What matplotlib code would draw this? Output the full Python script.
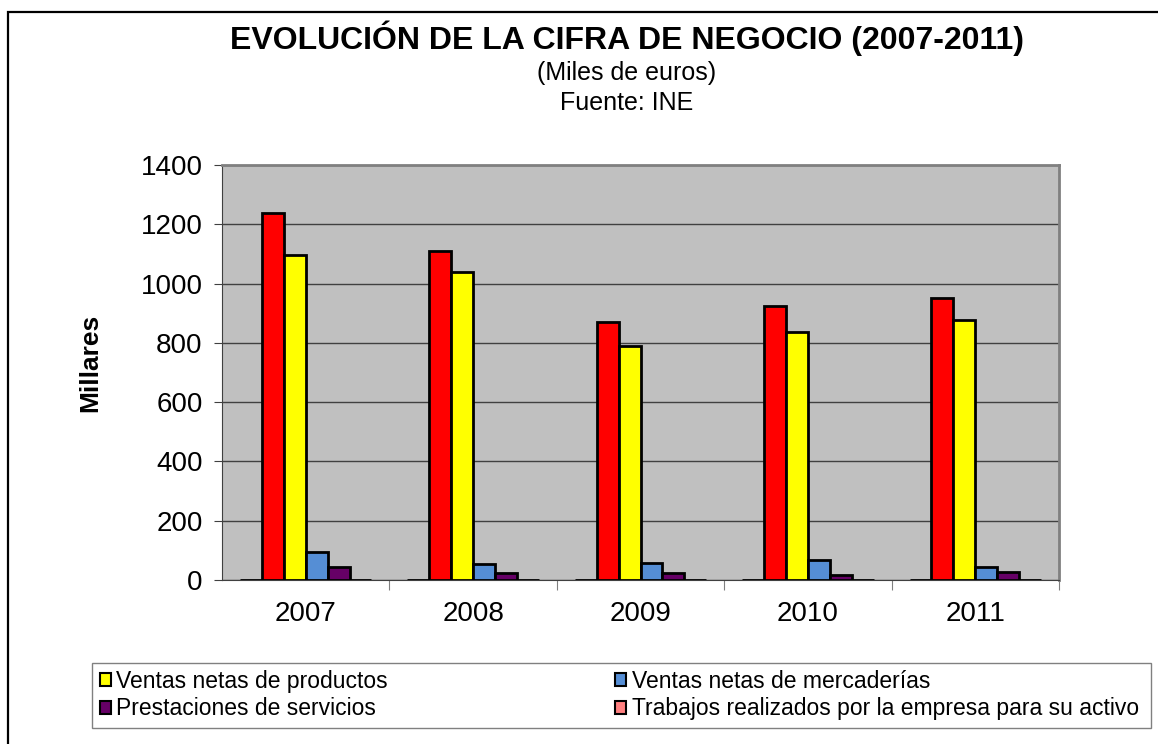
import numpy as np
import matplotlib
matplotlib.use("Agg")
import matplotlib.pyplot as plt
from matplotlib.patches import Rectangle, Patch

plt.rcParams['font.family'] = ['Liberation Sans', 'DejaVu Sans']

years = ["2007", "2008", "2009", "2010", "2011"]

# series in drawing order (left to right inside each year)
serie_vacia = [0, 0, 0, 0, 0]
total = [1237, 1111, 869, 925, 953]
ventas_productos = [1096, 1038, 790, 838, 876]
ventas_mercaderias = [95, 53, 56, 67, 45]
prestaciones = [45, 22, 22, 17, 28]
trabajos = [0, 0, 0, 0, 0]

series = [serie_vacia, total, ventas_productos, ventas_mercaderias, prestaciones, trabajos]
colores = ["#FF8080", "#FF0000", "#FFFF00", "#558ED5", "#660066", "#FF8080"]

# legend is filled column by column, so order it to read row by row
legend_names = ["Ventas netas de productos", "Prestaciones de servicios",
                "Ventas netas de mercaderías", "Trabajos realizados por la empresa para su activo"]
legend_colors = ["#FFFF00", "#660066", "#558ED5", "#FF8080"]

W, H = 1158, 744
fig = plt.figure(figsize=(W / 100, H / 100), dpi=100)

# outer frame
fig.patches.append(Rectangle((8 / W, -0.1), 1.2, 1.1 - 12 / H, transform=fig.transFigure,
                             fill=False, edgecolor="black", linewidth=1.6))

ax = fig.add_axes([222 / W, 1 - 580 / H, 837 / W, 415 / H])
ax.set_facecolor("#C0C0C0")

x = np.arange(len(years))
w = 0.131
for i, (vals, c) in enumerate(zip(series, colores)):
    ax.bar(x + (i - 2.5) * w, vals, w, color=c, edgecolor="black", linewidth=2, zorder=3)

ax.set_xlim(-0.5, 4.5)
ax.set_ylim(0, 1400)
ax.set_yticks(np.arange(0, 1401, 200))
ax.yaxis.grid(True, color="#404040", linewidth=1, zorder=1)
ax.tick_params(axis="y", labelsize=20, length=6, color="#404040", pad=8)

# category boundaries get the tick marks, years sit in the middle
ax.set_xticks(np.arange(0.5, 5, 1))
ax.set_xticklabels([])
ax.tick_params(axis="x", which="major", length=7, color="#808080")
ax.set_xticks(x, minor=True)
ax.set_xticklabels(years, minor=True)
ax.tick_params(axis="x", which="minor", length=0, labelsize=20, pad=15)

for s in ["top", "right"]:
    ax.spines[s].set_color("#808080")
    ax.spines[s].set_linewidth(2)
ax.spines["left"].set_color("#404040")
ax.spines["bottom"].set_color("#404040")

fig.text(90 / W, 1 - 363 / H, "Millares", rotation=90, fontsize=19, fontweight="bold",
         ha="center", va="center")

fig.text(627 / W, 1 - 38 / H, "EVOLUCIÓN DE LA CIFRA DE NEGOCIO (2007-2011)", fontsize=23,
         fontweight="bold", ha="center", va="center")
fig.text(627 / W, 1 - 73 / H, "(Miles de euros)", fontsize=18, ha="center", va="center")
fig.text(627 / W, 1 - 103 / H, "Fuente: INE", fontsize=18, ha="center", va="center")

# legend frame drawn by hand, legend itself without frame
fig.patches.append(Rectangle((92 / W, 1 - 728 / H), (1151 - 92) / W, 65 / H,
                             transform=fig.transFigure, fill=False,
                             edgecolor="#808080", linewidth=1))
handles = [Patch(facecolor=c, edgecolor="black", linewidth=1.5) for c in legend_colors]
leg = fig.legend(handles, legend_names, ncol=2, loc="center left",
                 bbox_to_anchor=(100 / W, 1 - 695 / H), fontsize=16.5, frameon=False,
                 handlelength=0.5, handleheight=0.5, handletextpad=0.22,
                 borderaxespad=0, borderpad=0, labelspacing=0.2, columnspacing=9.9)

fig.savefig("out.png", dpi=100)
